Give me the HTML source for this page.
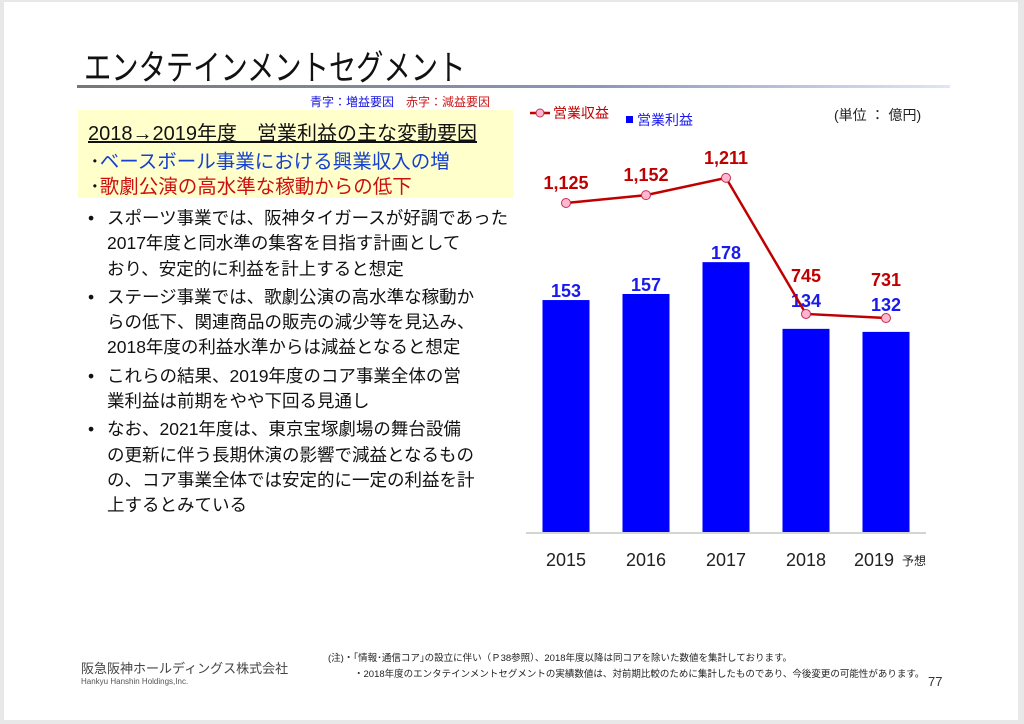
<!DOCTYPE html>
<html><head><meta charset="utf-8">
<style>
body{margin:0;width:1024px;height:724px;overflow:hidden;background:#e8e8e8;font-family:"Liberation Sans","Noto Sans CJK JP",sans-serif;}
#page{position:absolute;left:4px;top:2px;width:1014px;height:718px;background:#fff;}
.abs{position:absolute;white-space:nowrap;}
.b{position:relative;padding-left:19px;margin-bottom:3px;}
.b:before{content:"•";position:absolute;left:0;top:0;}
</style></head>
<body>
<div id="page">
<div class="abs" style="left:80px;top:38px;font-size:35px;color:#111;transform:scaleX(0.78);transform-origin:0 0;">エンタテインメントセグメント</div>
<div class="abs" style="left:73px;top:83px;width:873px;height:3px;background:linear-gradient(90deg,#777,#8b98b8 60%,#dfe6f5);"></div>
<div class="abs" style="left:306px;top:91px;font-size:12px;"><span style="color:#1515e0">青字：増益要因</span>　<span style="color:#cc1a1a">赤字：減益要因</span></div>
<div class="abs" style="left:74px;top:108px;width:435px;height:88px;background:#ffffcc;"></div>
<div class="abs" style="left:84px;top:115px;font-size:20px;color:#111;text-decoration:underline;">2018→2019年度　営業利益の主な変動要因</div>
<div class="abs" style="left:86px;top:143px;font-size:19.5px;color:#1540d0;"><span style="color:#111">･</span>ベースボール事業における興業収入の増</div>
<div class="abs" style="left:86px;top:168px;font-size:19.5px;color:#cc1010;"><span style="color:#111">･</span>歌劇公演の高水準な稼動からの低下</div>
<div class="abs" style="left:84px;top:204px;font-size:17.5px;line-height:25.3px;color:#111;">
<div class="b">スポーツ事業では、阪神タイガースが好調であった<br>2017年度と同水準の集客を目指す計画として<br>おり、安定的に利益を計上すると想定</div>
<div class="b">ステージ事業では、歌劇公演の高水準な稼動か<br>らの低下、関連商品の販売の減少等を見込み、<br>2018年度の利益水準からは減益となると想定</div>
<div class="b">これらの結果、2019年度のコア事業全体の営<br>業利益は前期をやや下回る見通し</div>
<div class="b">なお、2021年度は、東京宝塚劇場の舞台設備<br>の更新に伴う長期休演の影響で減益となるもの<br>の、コア事業全体では安定的に一定の利益を計<br>上するとみている</div>
</div>
<div class="abs" style="left:830px;top:103px;font-size:14px;color:#222;">(単位 ： 億円)</div>
<svg class="abs" style="left:-4px;top:-2px" width="1024" height="724" id="chart"></svg>
<div class="abs" style="left:77px;top:656px;font-size:13px;color:#444;">阪急阪神ホールディングス株式会社</div>
<div class="abs" style="left:77px;top:675px;font-size:8px;color:#555;">Hankyu Hanshin Holdings,Inc.</div>
<div class="abs" style="left:324px;top:648px;font-size:9.5px;color:#222;">(注)・｢情報･通信コア｣の設立に伴い（Ｐ38参照）、2018年度以降は同コアを除いた数値を集計しております。</div>
<div class="abs" style="left:350px;top:664px;font-size:9.5px;color:#222;">・2018年度のエンタテインメントセグメントの実績数値は、対前期比較のために集計したものであり、今後変更の可能性があります。</div>
<div class="abs" style="left:924px;top:672px;font-size:13px;color:#333;">77</div>
</div>
<script>
const categories=["2015","2016","2017","2018","2019"];
const profit=[153,157,178,134,132];
const revenue=[1125,1152,1211,745,731];
const profitLabels=["153","157","178","134","132"];
const revenueLabels=["1,125","1,152","1,211","745","731"];
const svg=document.getElementById('chart');
const NS='http://www.w3.org/2000/svg';
function xC(i){return 566+i*80;}
function yBar(v){return 532-v*1.516;}
function yLine(v){return 203-(v-1125)*0.292;}
function mk(t,a){const e=document.createElementNS(NS,t);for(const k in a)e.setAttribute(k,a[k]);svg.appendChild(e);return e;}
const ax=mk('line',{x1:526,y1:533,x2:926,y2:533,stroke:'#aaa','stroke-width':1});


profit.forEach((v,i)=>{
 const r=mk('rect',{x:xC(i)-23.5,y:yBar(v),width:47,height:532-yBar(v),fill:'#0000ff'});
 
 
 const ly=(yLine(revenue[i])>yBar(v)-40)?yLine(revenue[i])-7:yBar(v)-3;
 const t=mk('text',{x:xC(i),y:ly,'text-anchor':'middle','font-size':18,'font-weight':'bold',fill:'#1a1aee','font-family':'Liberation Sans, sans-serif'});
 t.textContent=profitLabels[i];
 
 
 const c=mk('text',{x:xC(i)-(i==4?12:0),y:566,'text-anchor':'middle','font-size':18,fill:'#222','font-family':'Liberation Sans, sans-serif'});
 c.textContent=categories[i];
 
 
});
const yo=mk('text',{x:902,y:565,'font-size':12,fill:'#222','font-family':'Noto Sans CJK JP, sans-serif'});
yo.textContent='予想';


const pl=mk('polyline',{points:revenue.map((v,i)=>xC(i)+','+yLine(v)).join(' '),fill:'none',stroke:'#c00000','stroke-width':2.5});


revenue.forEach((v,i)=>{
 const c=mk('circle',{cx:xC(i),cy:yLine(v),r:4.5,fill:'#ffb6d0',stroke:'#c03050','stroke-width':1});
 
 
 const ly=(yLine(v)>yBar(profit[i])-40)?yLine(v)-32:yLine(v)-14;
 const t=mk('text',{x:xC(i),y:ly,'text-anchor':'middle','font-size':18,'font-weight':'bold',fill:'#c00000','font-family':'Liberation Sans, sans-serif'});
 t.textContent=revenueLabels[i];
 
 
});
const l1=mk('line',{x1:530,y1:113,x2:550,y2:113,stroke:'#c00000','stroke-width':2.5});


const l2=mk('circle',{cx:540,cy:113,r:4,fill:'#ffb6d0',stroke:'#c03050'});


const l3=mk('text',{x:553,y:118,'font-size':14,fill:'#c00000','font-family':'Noto Sans CJK JP, sans-serif'});
l3.textContent='営業収益';


const l4=mk('rect',{x:626,y:116,width:7,height:7,fill:'#0000ff'});


const l5=mk('text',{x:637,y:125,'font-size':14,fill:'#1a1aee','font-family':'Noto Sans CJK JP, sans-serif'});
l5.textContent='営業利益';


</script>
</body></html>
